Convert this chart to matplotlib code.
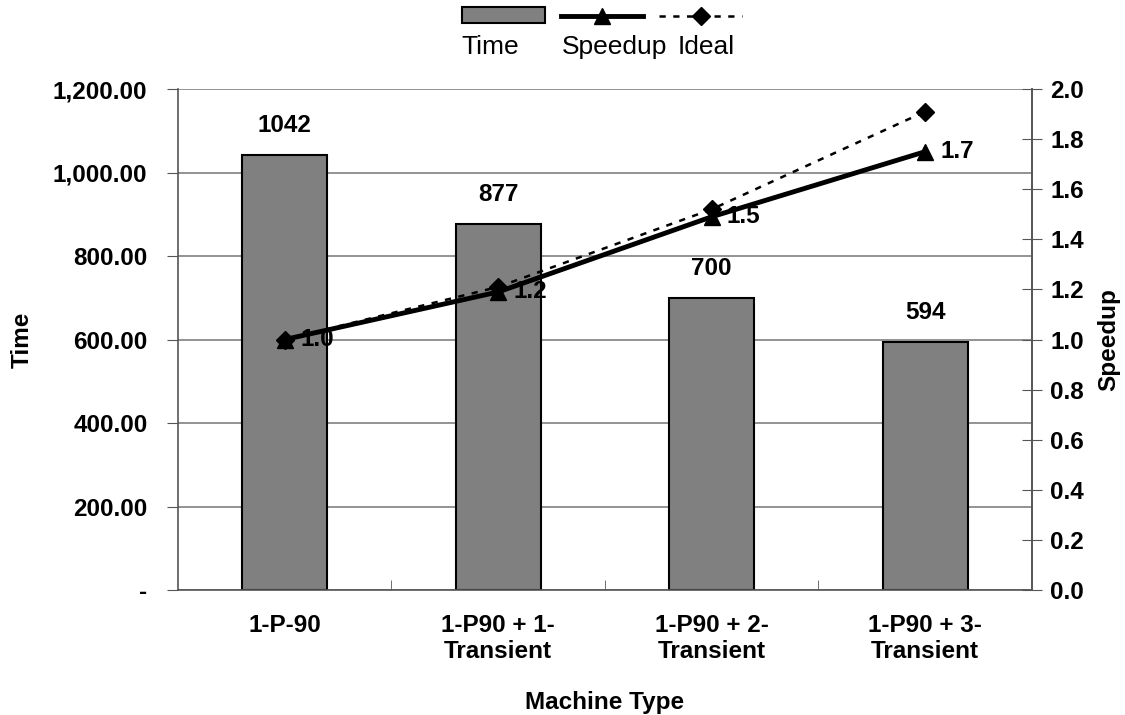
import matplotlib.pyplot as plt
import numpy as np
from matplotlib.patches import Patch
from matplotlib.lines import Line2D
from matplotlib.ticker import FuncFormatter, FixedLocator

plt.rcParams['font.family'] = ['Liberation Sans', 'DejaVu Sans']

# data
categories = ['1-P-90', '1-P90 + 1-\nTransient', '1-P90 + 2-\nTransient', '1-P90 + 3-\nTransient']
time_vals = [1042, 877, 700, 594]
speedup = [1.0, 1.19, 1.49, 1.75]
speedup_labels = ['1.0', '1.2', '1.5', '1.7']
ideal = [1.0, 1.21, 1.52, 1.91]

fs = 17.5
x = np.arange(len(categories))

fig = plt.figure(figsize=(11.25, 7.15), dpi=100)
ax = fig.add_axes([0.1582, 0.1748, 0.7591, 0.7007])

# bars (Time)
ax.bar(x, time_vals, width=0.4, color='#808080', edgecolor='black', linewidth=1.5, zorder=2)
for xi, v in zip(x, time_vals):
    ax.annotate(str(v), (xi, v), xytext=(0, 13), textcoords='offset points',
                ha='center', va='bottom', fontsize=fs, fontweight='bold')

ax.set_xlim(-0.5, 3.5)
ax.set_ylim(0, 1200)
ax.set_yticks(np.arange(0, 1201, 200))
ax.yaxis.set_major_formatter(FuncFormatter(lambda v, p: '-' if v == 0 else f'{v:,.2f}'))
ax.grid(axis='y', color='#808080', linewidth=1.2, zorder=0)
ax.set_axisbelow(True)

ax.set_xticks(x)
ax.set_xticklabels(categories, fontsize=fs, fontweight='bold', linespacing=1.2)
ax.tick_params(axis='x', which='major', length=0, pad=17)
ax.xaxis.set_minor_locator(FixedLocator([0.5, 1.5, 2.5]))
ax.tick_params(axis='x', which='minor', direction='in', length=7, color='#555555')
ax.tick_params(axis='y', direction='out', length=8, labelsize=fs, pad=14, color='#555555')
for lab in ax.get_yticklabels():
    lab.set_fontweight('bold')

ax.set_xlabel('Machine Type', fontsize=fs, fontweight='bold', labelpad=20)
ax.set_ylabel('Time', fontsize=fs, fontweight='bold', labelpad=14)

for s in ['left', 'bottom', 'right']:
    ax.spines[s].set_color('#555555')
    ax.spines[s].set_linewidth(1.2)
ax.spines['top'].set_visible(False)

# right axis (Speedup)
ax2 = ax.twinx()
ax2.set_ylim(0, 2.0)
ax2.set_yticks(np.arange(0, 2.01, 0.2))
ax2.yaxis.set_major_formatter(FuncFormatter(lambda v, p: f'{v:.1f}'))
ax2.tick_params(axis='y', direction='inout', length=14, labelsize=fs, pad=6, color='#555555')
for lab in ax2.get_yticklabels():
    lab.set_fontweight('bold')
ax2.set_ylabel('Speedup', fontsize=fs, fontweight='bold', labelpad=10)
for s in ['left', 'bottom', 'top']:
    ax2.spines[s].set_visible(False)
ax2.spines['right'].set_color('#555555')
ax2.spines['right'].set_linewidth(1.2)

ax2.plot(x, ideal, color='black', linestyle=(0, (2.5, 3)), linewidth=1.8,
         marker='D', markersize=9, zorder=3)
ax2.plot(x, speedup, color='black', linewidth=3.5, marker='^', markersize=12, zorder=4)
for xi, v, t in zip(x, speedup, speedup_labels):
    ax2.annotate(t, (xi, v), xytext=(11, 0), textcoords='offset points',
                 ha='left', va='center', fontsize=fs, fontweight='bold')

# legend: handles in a row, labels underneath
handles = [Patch(facecolor='#808080', edgecolor='black', linewidth=1.5),
           Line2D([], [], color='black', linewidth=3.5, marker='^', markersize=12),
           Line2D([], [], color='black', linestyle=(0, (2.5, 3)), linewidth=1.8,
                  marker='D', markersize=9)]
fig.legend(handles, ['', '', ''], ncol=3, loc='center', bbox_to_anchor=(0.535, 0.975),
           frameon=False, fontsize=fs, handlelength=3.4, handleheight=0.62,
           handletextpad=0, columnspacing=0.66, borderpad=0, borderaxespad=0)
for xp, t in zip([0.4355, 0.546, 0.628], ['Time', 'Speedup', 'Ideal']):
    fig.text(xp, 0.934, t, ha='center', va='center', fontsize=19)

fig.savefig('out.png', dpi=100)
